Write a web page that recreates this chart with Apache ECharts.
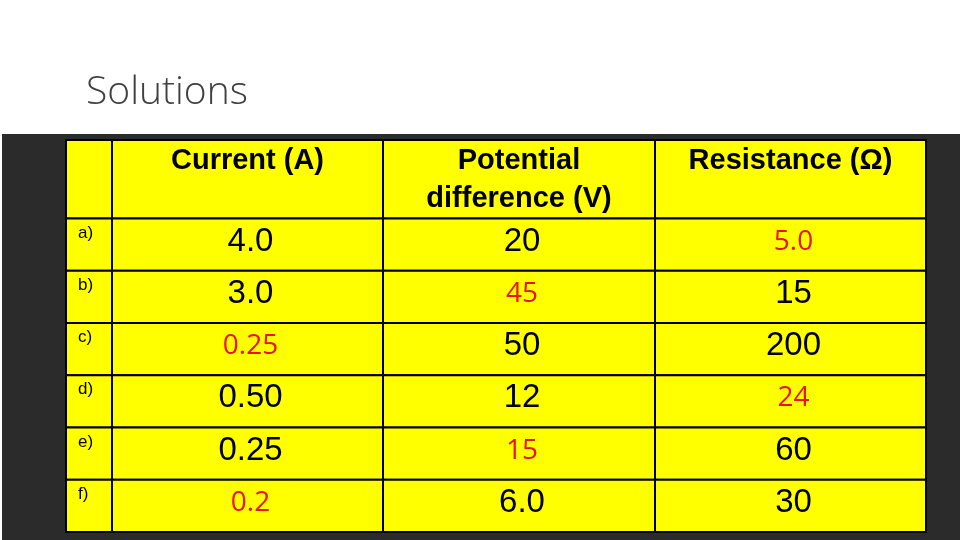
<!DOCTYPE html>
<html><head><meta charset="utf-8">
<script src="https://cdn.jsdelivr.net/npm/echarts@6/dist/echarts.min.js"></script>
<style>html,body{margin:0;padding:0;background:#fff}#c{width:960px;height:540px}</style>
</head><body><div id="c"></div>
<script>
const title = 'Solutions';
const headers = ['', 'Current (A)', 'Potential\ndifference (V)', 'Resistance (Ω)'];
const rowLabels = ['a)', 'b)', 'c)', 'd)', 'e)', 'f)'];
const current = ['4.0', '3.0', '0.25', '0.50', '0.25', '0.2'];
const voltage = ['20', '45', '50', '12', '15', '6.0'];
const resistance = ['5.0', '15', '200', '24', '60', '30'];
// which cells are solved answers (shown in red)
const currentSolved = [false, false, true, false, false, true];
const voltageSolved = [false, true, false, false, true, false];
const resistanceSolved = [true, false, false, true, false, false];

// layout (not data)
const colEdges = [0, 46, 317, 589, 860];
const headerH = 1.5;

const cells = [];
headers.forEach((h, c) => cells.push([c, -1, h, 0]));
rowLabels.forEach((l, r) => {
  cells.push([0, r, l, 0]);
  cells.push([1, r, current[r], currentSolved[r] ? 1 : 0]);
  cells.push([2, r, voltage[r], voltageSolved[r] ? 1 : 0]);
  cells.push([3, r, resistance[r], resistanceSolved[r] ? 1 : 0]);
});

function renderItem(params, api) {
  const c = api.value(0), r = api.value(1), txt = api.value(2), red = api.value(3);
  const y0 = r < 0 ? 0 : headerH + r, y1 = r < 0 ? headerH : headerH + r + 1;
  const p0 = api.coord([colEdges[c], y0]);
  const p1 = api.coord([colEdges[c + 1], y1]);
  const w = p1[0] - p0[0], h = p1[1] - p0[1];
  const children = [{
    type: 'rect', shape: {x: p0[0], y: p0[1], width: w, height: h},
    style: {fill: '#ffff00', stroke: '#000', lineWidth: 2}
  }];
  let st;
  if (r < 0) {
    st = {text: txt, x: p0[0] + w / 2, y: p0[1] + 2, align: 'center', verticalAlign: 'top',
      font: 'bold 29px "Liberation Sans", Arial, sans-serif', fill: '#000', lineHeight: 38};
  } else if (c === 0) {
    st = {text: txt, x: p0[0] + 12, y: p0[1] + 6, align: 'left', verticalAlign: 'top',
      font: '17px "Liberation Sans", Arial, sans-serif', fill: '#000'};
  } else {
    st = {text: txt, x: p0[0] + w / 2 + 3, y: p0[1] + h / 2 - 3, align: 'center', verticalAlign: 'middle',
      font: red ? '28px "Open Sans", "Liberation Sans", sans-serif' : '33px "Liberation Sans", Arial, sans-serif',
      fill: red ? '#e8141b' : '#000'};
  }
  children.push({type: 'text', style: st});
  return {type: 'group', children};
}

const chart = echarts.init(document.getElementById('c'));
chart.setOption({
  animation: false,
  backgroundColor: '#fff',
  graphic: [
    {type: 'rect', shape: {x: 2, y: 134, width: 958, height: 406}, style: {fill: '#2b2b2b'}, z: -10},
    {type: 'text', style: {text: title, x: 86, y: 93, verticalAlign: 'middle',
      font: '300 39px "Open Sans", sans-serif', fill: '#404040'}}
  ],
  grid: {left: 66, right: 34, top: 140, bottom: 8},
  xAxis: {type: 'value', min: 0, max: 860, show: false},
  yAxis: {type: 'value', min: 0, max: 7.5, inverse: true, show: false},
  series: [{type: 'custom', renderItem, data: cells, clip: false}]
});
</script></body></html>
